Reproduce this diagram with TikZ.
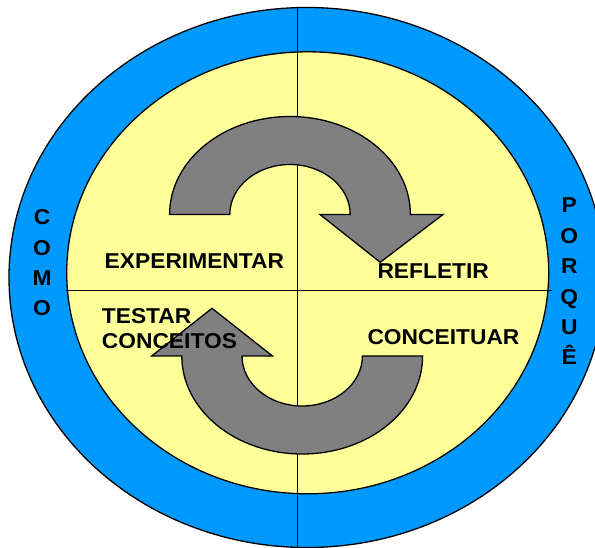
\documentclass[tikz,border=0pt]{standalone}
\usepackage{fontspec}
\newfontfamily\cyclefont{Liberation Sans}[FakeStretch=1.06]
\usetikzlibrary{positioning}
\definecolor{ckBlue}{HTML}{0099FF}
\definecolor{ckYellow}{HTML}{FFFF99}
\definecolor{ckGrey}{HTML}{808080}
\tikzset{
  ring/.style={draw=black, line width=1.3pt, fill=#1},
  cross/.style={draw=black, line width=0.9pt},
  turn/.style={draw=black, line width=1.3pt, fill=ckGrey, line join=miter},
  lbl/.style={font=\cyclefont\bfseries\fontsize{21.5}{25.6}\selectfont, inner sep=0pt},
}

\begin{document}
\begin{tikzpicture}[x=1pt,y=1pt]
\useasboundingbox (0,0) rectangle (595,547);
\clip (0,0) rectangle (595,547);

% the two rings
\path[ring=ckBlue] (307,269.5) ellipse [x radius=298, y radius=270];
\path[ring=ckYellow] (307.7,274.2) ellipse [x radius=241, y radius=221];

% quadrants
\begin{scope}
  \clip (307,269.5) ellipse [x radius=298, y radius=270];
  \draw[cross] (297,547) -- (297,0);
\end{scope}
\draw[cross] (66,256.5) -- (552,256.5);

% upper turn
\draw[turn] (169.6,332.5) arc[start angle=180, end angle=0, x radius=120.4, y radius=98]
  -- (443,332.5) -- (380.2,284.7) -- (320,332.5) -- (350.2,332.5)
  arc[start angle=0, end angle=180, x radius=60.2, y radius=50] -- cycle;

% lower turn
\draw[turn] (422.6,191) arc[start angle=0, end angle=-180, x radius=120.4, y radius=98]
  -- (151.7,191) -- (212,238.7) -- (272.5,191) -- (242,191)
  arc[start angle=180, end angle=360, x radius=60.2, y radius=50] -- cycle;

% quadrant labels
\node[lbl, anchor=base west] (exper) at (104.5,278) {EXPERIMENTAR};
\node[lbl, anchor=base west] (refl) at (377.3,268) {REFLETIR};
\node[lbl, anchor=base west] (conc) at (367.3,202) {CONCEITUAR};
\node[lbl, anchor=north west, align=left] (test) at (101.7,239) {TESTAR\\CONCEITOS};

% side words
\foreach \ch [count=\i] in {C,O,M,O}
  \node[lbl, anchor=base] (como\i) at (42,{322-30.3*(\i-1)}) {\ch};
\foreach \ch [count=\i] in {P,O,R,Q,U,Ê}
  \node[lbl, anchor=base] (porque\i) at (569.3,{334-30.4*(\i-1)}) {\ch};

\end{tikzpicture}
\end{document}
